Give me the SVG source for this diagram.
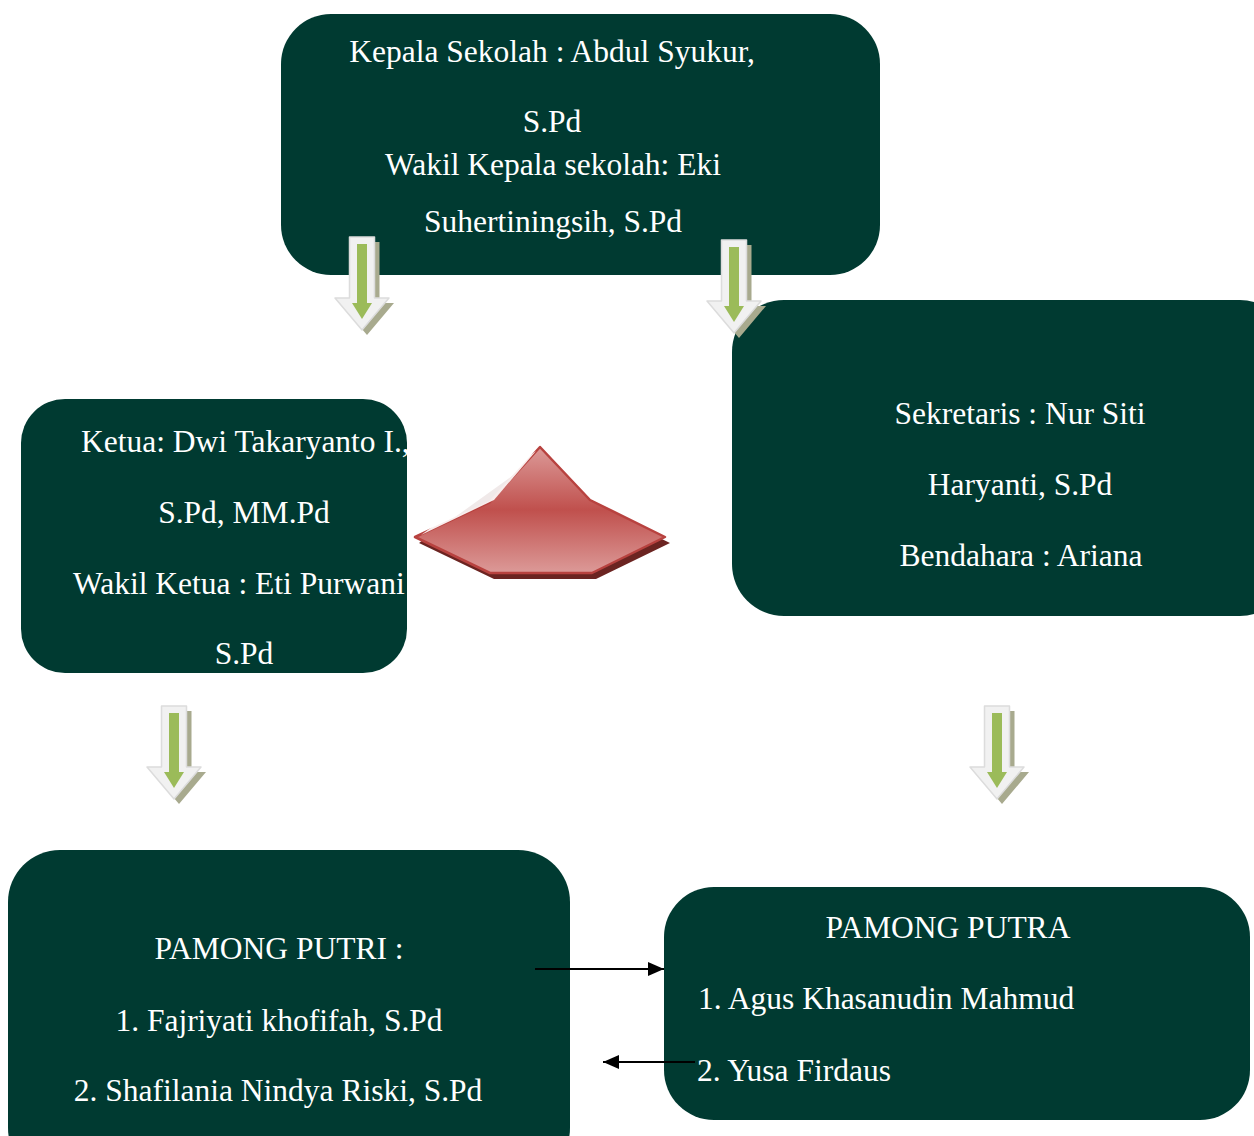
<svg xmlns="http://www.w3.org/2000/svg" width="1254" height="1136" viewBox="0 0 1254 1136">
<defs>
<style>
.box{fill:#003a31}
.t{font-family:"Liberation Serif","Times New Roman",serif;font-size:31.5px;fill:#ffffff}
.c{text-anchor:middle}
.conn{stroke:#000;stroke-width:2;fill:none}
</style>
<marker id="ah" markerWidth="16" markerHeight="14" refX="16" refY="7" orient="auto" markerUnits="userSpaceOnUse" viewBox="0 0 16 14">
<path d="M0,0 L16,7 L0,14 z" fill="#000"/>
</marker>
<linearGradient id="rg" x1="0" y1="0" x2="0" y2="1">
<stop offset="0" stop-color="#dc9a98"/>
<stop offset="0.5" stop-color="#c0504d"/>
<stop offset="1" stop-color="#dc9a98"/>
</linearGradient>
<g id="garrow">
<path d="M-7.5,5 L17.5,5 L17.5,66 L32,66 L5,98 L-22,66 L-7.5,66 Z" fill="#a8aa8e" stroke-linejoin="round"/>
<path d="M-12.5,0 L12.5,0 L12.5,61 L27,61 L0,93 L-27,61 L-12.5,61 Z" fill="#f1f1f1" stroke="#dcdcdc" stroke-width="1.5" stroke-linejoin="round"/>
<path d="M-5,7 L5,7 L5,66 L10,66 L0,82 L-10,66 L-5,66 Z" fill="#9bbb59"/>
</g>
</defs>

<g id="node-kepala">
<rect class="box" x="281" y="14" width="599" height="261" rx="50"/>
<text class="t c" x="552" y="62">Kepala Sekolah : Abdul Syukur,</text>
<text class="t c" x="552" y="132">S.Pd</text>
<text class="t c" x="553" y="175">Wakil Kepala sekolah: Eki</text>
<text class="t c" x="553" y="232">Suhertiningsih, S.Pd</text>
</g>

<g id="node-ketua">
<rect class="box" x="21" y="399" width="386" height="274" rx="44"/>
<text class="t" x="81" y="452">Ketua: Dwi Takaryanto I.,</text>
<text class="t c" x="244" y="523">S.Pd, MM.Pd</text>
<text class="t" x="73" y="594">Wakil Ketua : Eti Purwani</text>
<text class="t c" x="244" y="664">S.Pd</text>
</g>

<g id="node-sekretaris">
<rect class="box" x="732" y="300" width="560" height="316" rx="52"/>
<text class="t c" x="1020" y="424">Sekretaris : Nur Siti</text>
<text class="t c" x="1020" y="495">Haryanti, S.Pd</text>
<text class="t c" x="1021" y="566">Bendahara : Ariana</text>
</g>

<g id="node-putri">
<rect class="box" x="8" y="850" width="562" height="330" rx="52"/>
<text class="t c" x="279" y="959">PAMONG PUTRI :</text>
<text class="t c" x="279" y="1031">1. Fajriyati khofifah, S.Pd</text>
<text class="t c" x="278" y="1101">2. Shafilania Nindya Riski, S.Pd</text>
</g>

<g id="node-putra">
<rect class="box" x="664" y="887" width="586" height="233" rx="50"/>
<text class="t c" x="948" y="938">PAMONG PUTRA</text>
<text class="t" x="698" y="1009">1. Agus Khasanudin Mahmud</text>
<text class="t" x="697" y="1081">2. Yusa Firdaus</text>
</g>

<g id="pentagon">
<polygon points="544,453 594,506 670,543 596,579 494,579 419,543" fill="#6b2421"/>
<polygon points="540,447 590,500 665,537 592,573 490,573 415,537 490,502" fill="url(#rg)" stroke="#b8423f" stroke-width="2.5" stroke-linejoin="round"/>
<path d="M421,535 L536,451 L494,500 Z" fill="#ffffff" opacity="0.9"/>
</g>

<g id="connectors">
<use href="#garrow" x="362" y="237"/>
<use href="#garrow" x="734" y="240"/>
<use href="#garrow" x="174" y="706"/>
<use href="#garrow" x="997" y="706"/>
<line class="conn" x1="535" y1="969" x2="664" y2="969" marker-end="url(#ah)"/>
<line class="conn" x1="695" y1="1062" x2="603" y2="1062" marker-end="url(#ah)"/>
</g>
</svg>
